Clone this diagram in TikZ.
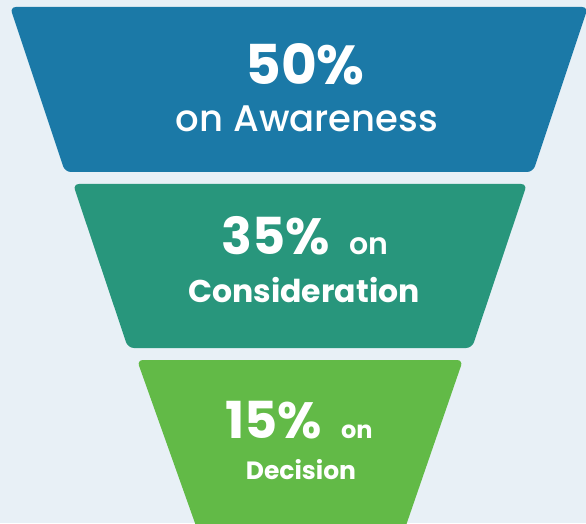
\documentclass[tikz,border=0pt]{standalone}
\usepackage{fontspec}
\setmainfont{Poppins}
\newfontfamily\fbold{Poppins Bold}
\newfontfamily\fsemi{Poppins SemiBold}
\newfontfamily\fmed{Poppins Medium}

\definecolor{bgpale}{HTML}{E8F0F6}
\definecolor{stageblue}{HTML}{1B79A7}
\definecolor{stageteal}{HTML}{28967C}
\definecolor{stagegreen}{HTML}{62BA47}

\tikzset{
  stage/.style={rounded corners=6pt},
  lbl/.style={text=white, inner sep=0pt, anchor=base},
}

\begin{document}
\begin{tikzpicture}[x=1pt,y=1pt]
  \useasboundingbox (0,0) rectangle (586,523);
  \clip (0,0) rectangle (586,523);
  \fill[bgpale] (0,0) rectangle (586,523);

  % funnel stages, widest at the top
  \fill[stage, stageblue]  (10,516) -- (588,516) -- (533,351) -- (65,351) -- cycle;
  \fill[stage, stageteal]  (73,339) -- (527,339) -- (472,175) -- (128,175) -- cycle;
  \fill[stage, stagegreen] (137,163) -- (463,163) -- (401,-17) -- (201,-17) -- cycle;

  % labels
  \node[lbl, font=\fbold\fontsize{55}{55}\selectfont] (p50) at (305,438) {50\%};
  \node[lbl, font=\fmed\fontsize{37}{37}\selectfont] (aw) at (307,391) {on Awareness};

  \node[lbl] (p35) at (305,269)
    {{\fbold\fontsize{51}{51}\selectfont 35\%}\hspace{19pt}{\fsemi\fontsize{30}{30}\selectfont on}};
  \node[lbl, font=\fbold\fontsize{31.5}{31.5}\selectfont] (cons) at (304,221) {Consideration};

  \node[lbl] (p15) at (299,85)
    {{\fbold\fontsize{51}{51}\selectfont 15\%}\hspace{19pt}{\fbold\fontsize{24}{24}\selectfont on}};
  \node[lbl, font=\fbold\fontsize{25}{25}\selectfont] (dec) at (301,44) {Decision};
\end{tikzpicture}
\end{document}
